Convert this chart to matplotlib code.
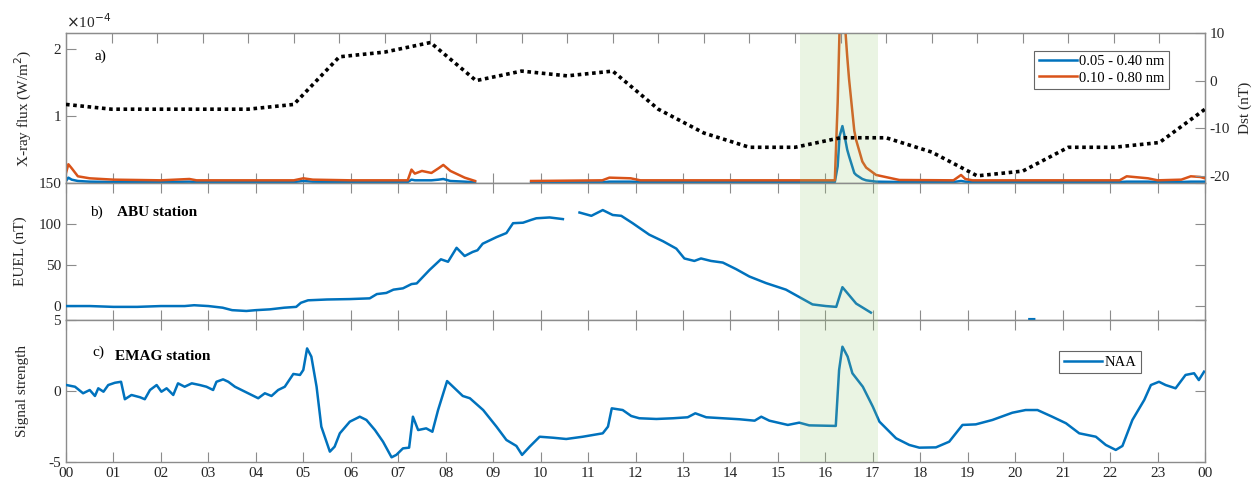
import numpy as np
import matplotlib
matplotlib.use("Agg")
import matplotlib.pyplot as plt

plt.rcParams['font.family'] = ['Liberation Serif', 'DejaVu Serif']
plt.rcParams['axes.unicode_minus'] = False
plt.rcParams['font.size'] = 11

nan = np.nan

# ---- data ----
hours = list(range(25))
hour_labels = ['%02d' % (h % 24) for h in hours]

# Dst, hourly values (overlay axis runs 0..25)
dst_idx = list(range(26))
dst = [-5, -6, -6, -6, -6, -5, 5, 6, 8, 0, 2, 1, 2, -6, -11, -14, -14, -12, -12,
       -15, -20, -19, -14, -14, -13, -6]

# X-ray flux, units of 1e-4 W/m^2
t_xr = [0, 0.05, 0.12, 0.25, 0.5, 1.0, 2.0, 2.6, 2.75, 4.0, 4.8, 5.0, 5.2, 6.0, 7.2,
        7.28, 7.35, 7.5, 7.7, 7.85, 7.95, 8.1, 8.4, 8.62, 8.64, 9.8, 11.3, 11.45,
        11.9, 12.1, 16.2, 16.26, 16.3, 16.36, 16.42, 16.46, 16.5, 16.61, 16.65,
        16.78, 16.86, 17.07, 17.56, 18.7, 18.86, 18.95, 19.1, 22.2, 22.35, 22.8,
        23.0, 23.5, 23.7, 23.9, 24.0]
xr_long = [0.15, 0.28, 0.22, 0.10, 0.07, 0.05, 0.04, 0.06, 0.04, 0.04, 0.04, 0.07,
           0.05, 0.04, 0.04, 0.20, 0.14, 0.18, 0.15, 0.22, 0.27, 0.18, 0.08, 0.03,
           nan, 0.03, 0.04, 0.08, 0.07, 0.04, 0.04, 1.2, 2.3, 2.4, 2.3, 1.9, 1.55,
           0.78, 0.64, 0.32, 0.23, 0.12, 0.045, 0.04, 0.12, 0.06, 0.04, 0.04, 0.10,
           0.07, 0.04, 0.05, 0.10, 0.09, 0.07]
xr_short = [0.03, 0.08, 0.05, 0.03, 0.02, 0.015, 0.015, 0.02, 0.015, 0.015, 0.015,
            0.03, 0.02, 0.015, 0.015, 0.05, 0.04, 0.04, 0.04, 0.05, 0.06, 0.03,
            0.02, 0.01, nan, 0.01, 0.01, 0.02, 0.02, 0.015, 0.015, 0.25, 0.70,
            0.85, 0.65, 0.50, 0.40, 0.15, 0.12, 0.06, 0.04, 0.02, 0.015, 0.015,
            0.03, 0.02, 0.015, 0.015, 0.02, 0.02, 0.015, 0.015, 0.02, 0.02, 0.02]

# EUEL at ABU (nT)
t_euel = [0, 0.5, 1, 1.5, 2, 2.5, 2.7, 3.0, 3.3, 3.5, 3.8, 4.0, 4.3, 4.6, 4.85,
          4.95, 5.1, 5.5, 5.98, 6.4, 6.55, 6.75, 6.9, 7.1, 7.28, 7.39, 7.66, 7.9,
          8.05, 8.23, 8.4, 8.57, 8.67, 8.78, 9.07, 9.28, 9.42, 9.63, 9.8, 9.91,
          10.19, 10.47, 10.6, 10.82, 11.07, 11.31, 11.52, 11.7, 11.94, 12.29,
          12.58, 12.86, 13.03, 13.24, 13.38, 13.59, 13.84, 14.12, 14.4, 14.75,
          15.17, 15.45, 15.73, 16.01, 16.23, 16.36, 16.65, 16.96, 17.5, 20.3, 20.4]
euel = [0, 0, -1, -1, 0, 0, 1, 0, -2, -5, -6, -5, -4, -2, -1, 4, 7, 8, 8.5, 9.4,
        14.6, 16, 20, 21.6, 26.8, 27.6, 44, 57, 54, 71, 61, 66, 68, 76, 84, 89,
        101, 101.6, 105, 107, 108, 106, nan, 114, 110, 117, 111, 110, 101, 87, 79,
        70, 58, 55, 58, 55, 53, 45, 36, 28, 20, 11, 2, 0, -1, 23, 3, -8, nan, -16,
        -16]

# NAA signal strength at EMAG
t_naa = [0.01, 0.19, 0.36, 0.5, 0.61, 0.68, 0.79, 0.89, 1.03, 1.16, 1.24, 1.38,
         1.56, 1.66, 1.77, 1.91, 2.01, 2.12, 2.26, 2.36, 2.5, 2.65, 2.82, 2.96,
         3.1, 3.17, 3.31, 3.42, 3.56, 3.73, 3.91, 4.05, 4.19, 4.33, 4.47, 4.61,
         4.79, 4.93, 5.0, 5.08, 5.17, 5.28, 5.38, 5.56, 5.66, 5.77, 5.98, 6.19,
         6.33, 6.51, 6.68, 6.86, 6.96, 7.1, 7.23, 7.31, 7.42, 7.59, 7.72, 7.84,
         8.03, 8.36, 8.51, 8.79, 9.07, 9.28, 9.49, 9.61, 9.77, 9.98, 10.26, 10.54,
         10.89, 11.31, 11.42, 11.5, 11.73, 11.91, 12.08, 12.44, 12.79, 13.1, 13.26,
         13.49, 13.84, 14.19, 14.51, 14.65, 14.82, 15.21, 15.45, 15.66, 16.22,
         16.29, 16.36, 16.47, 16.57, 16.79, 17.0, 17.14, 17.49, 17.77, 17.98,
         18.33, 18.61, 18.89, 19.17, 19.52, 19.94, 20.22, 20.47, 20.78, 21.07,
         21.35, 21.7, 21.91, 22.12, 22.26, 22.47, 22.72, 22.86, 23.03, 23.17,
         23.38, 23.59, 23.77, 23.87, 23.98]
naa = [0.42, 0.3, -0.16, 0.07, -0.35, 0.19, -0.05, 0.42, 0.58, 0.65, -0.58, -0.28,
       -0.44, -0.58, 0.07, 0.42, -0.05, 0.19, -0.28, 0.54, 0.3, 0.54, 0.42, 0.3,
       0.07, 0.65, 0.82, 0.65, 0.3, 0.02, -0.28, -0.51, -0.16, -0.35, 0.07, 0.3,
       1.2, 1.13, 1.48, 3.0, 2.42, 0.3, -2.51, -4.27, -3.92, -2.98, -2.16, -1.81,
       -2.04, -2.75, -3.57, -4.67, -4.5, -4.04, -3.99, -1.81, -2.75, -2.63, -2.87,
       -1.34, 0.7, -0.35, -0.51, -1.34, -2.51, -3.45, -3.87, -4.5, -3.92, -3.22,
       -3.29, -3.38, -3.22, -2.98, -2.51, -1.22, -1.34, -1.76, -1.92, -1.97, -1.92,
       -1.85, -1.57, -1.85, -1.92, -1.99, -2.09, -1.81, -2.09, -2.39, -2.23, -2.42,
       -2.46, 1.48, 3.12, 2.42, 1.25, 0.3, -1.1, -2.16, -3.33, -3.8, -3.99, -3.97,
       -3.57, -2.39, -2.35, -2.04, -1.53, -1.34, -1.34, -1.81, -2.27, -2.98, -3.22,
       -3.8, -4.15, -3.87, -2.04, -0.63, 0.42, 0.65, 0.42, 0.19, 1.13, 1.25, 0.77,
       1.36]

event = (15.47, 17.1)

# ---- figure ----
blue = '#0072BD'
orange = '#D95319'
spine_c = '#8c8c8c'
text_c = '#262626'

fig = plt.figure(figsize=(12.52, 4.87), dpi=100)
L, R = 66 / 1252, 1205 / 1252
W = R - L
def ypos(top, bot):
    return [L, 1 - bot / 487, W, (bot - top) / 487]

ax_a = fig.add_axes(ypos(33, 183))
ax_b = fig.add_axes(ypos(183, 320))
ax_c = fig.add_axes(ypos(320, 462))

def style(ax, labelbottom=False):
    for s in ax.spines.values():
        s.set_color(spine_c)
        s.set_linewidth(1.0)
    ax.set_xlim(0, 24)
    ax.set_xticks(hours)
    ax.set_xticklabels(hour_labels)
    ax.tick_params(direction='in', length=7, color=spine_c, labelcolor=text_c,
                   labelsize=11, top=True, right=True, labelbottom=labelbottom)
    ax.axvspan(event[0], event[1], color=(0.6, 0.8, 0.45), alpha=0.2, lw=0, zorder=5)

# a) X-ray flux
ax_a.plot(t_xr, xr_short, color=blue, lw=1.8, label='0.05 - 0.40 nm', zorder=3)
ax_a.plot(t_xr, xr_long, color=orange, lw=1.8, label='0.10 - 0.80 nm', zorder=3)
style(ax_a)
ax_a.tick_params(top=False, right=False)
ax_a.set_ylim(0, 2.24)
ax_a.set_yticks([1, 2])
ax_a.set_ylabel('X-ray flux (W/m$^2$)', color=text_c, labelpad=14)
ax_a.text(0.0, 1.015, r'$\times$10$^{-4}$', transform=ax_a.transAxes, fontsize=11,
          color=text_c, ha='left', va='bottom')
ax_a.text(0.025, 0.82, 'a)', transform=ax_a.transAxes, fontsize=11, color='k')
leg = ax_a.legend(loc='upper right', bbox_to_anchor=(0.975, 0.93), fontsize=10.5,
                  frameon=True, fancybox=False, edgecolor='#404040',
                  handlelength=2.6, handletextpad=0.2, borderpad=0.3, labelspacing=0.2)
leg.get_frame().set_linewidth(0.8)

# Dst overlay axis (hourly, 0..25)
ax_d = fig.add_axes(ypos(33, 183), label='dst')
ax_d.patch.set_visible(False)
ax_d.plot(dst_idx, dst, color='k', lw=2.6, ls=(0, (1, 1)), zorder=6)
ax_d.set_xlim(0, 25)
ax_d.set_ylim(-21.5, 10)
ax_d.set_xticks(range(1, 25))
ax_d.set_yticks([-20, -10, 0, 10])
ax_d.tick_params(direction='in', length=7, color=spine_c, labelcolor=text_c,
                 labelsize=11, bottom=False, labelbottom=False, top=True,
                 left=False, labelleft=False, right=True, labelright=True)
for s in ax_d.spines.values():
    s.set_color(spine_c)
ax_d.yaxis.set_label_position('right')
ax_d.set_ylabel('Dst (nT)', color=text_c, labelpad=6)

# b) EUEL
ax_b.plot(t_euel, euel, color=blue, lw=1.8, zorder=3)
style(ax_b)
ax_b.set_ylim(-17, 150)
ax_b.set_yticks([0, 50, 100, 150])
ax_b.set_ylabel('EUEL (nT)', color=text_c, labelpad=8)
ax_b.text(0.021, 0.76, 'b)', transform=ax_b.transAxes, fontsize=11, color='k')
ax_b.text(0.045, 0.76, 'ABU station', transform=ax_b.transAxes, fontsize=11,
          fontweight='bold', color='k')

# c) NAA signal
ax_c.plot(t_naa, naa, color=blue, lw=1.8, label='NAA', zorder=3)
style(ax_c, labelbottom=True)
ax_c.set_ylim(-5, 5)
ax_c.set_yticks([-5, 0, 5])
ax_c.set_ylabel('Signal strength', color=text_c, labelpad=14)
ax_c.text(0.023, 0.75, 'c)', transform=ax_c.transAxes, fontsize=11, color='k')
ax_c.text(0.043, 0.72, 'EMAG station', transform=ax_c.transAxes, fontsize=11,
          fontweight='bold', color='k')
leg = ax_c.legend(loc='upper right', bbox_to_anchor=(0.95, 0.83), fontsize=10.5,
                  frameon=True, fancybox=False, edgecolor='#404040',
                  handlelength=2.6, handletextpad=0.2, borderpad=0.3)
leg.get_frame().set_linewidth(0.8)

fig.savefig('out.png', dpi=100)
